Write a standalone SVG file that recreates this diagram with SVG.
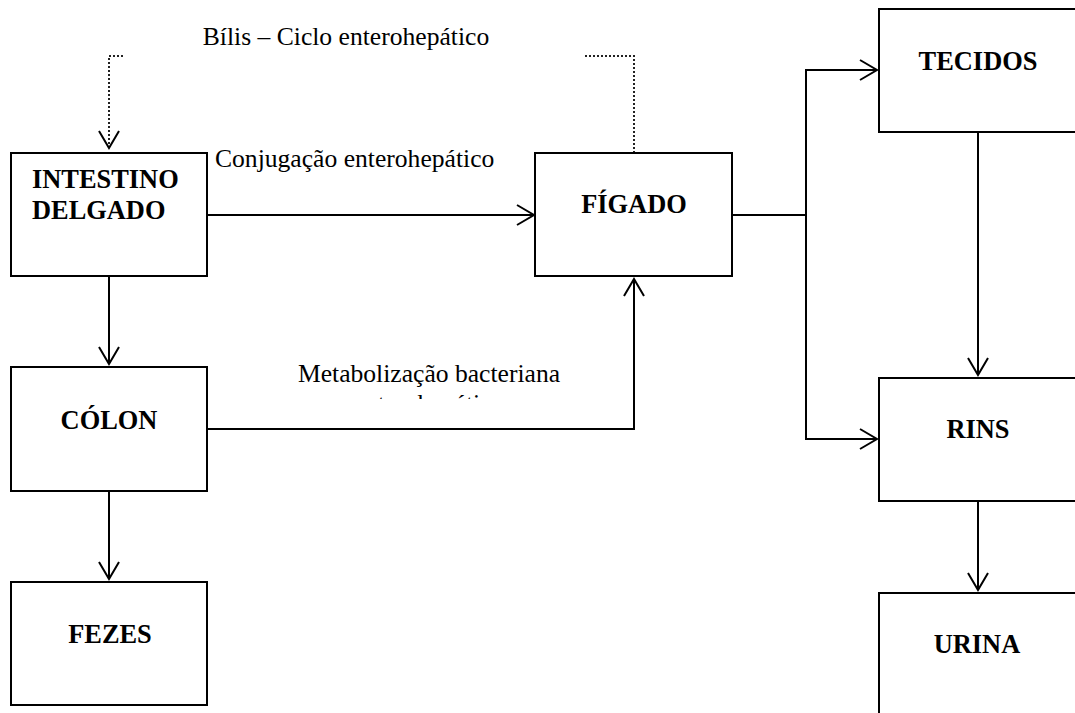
<svg xmlns="http://www.w3.org/2000/svg" width="1075" height="713" viewBox="0 0 1075 713">
<style>
.box{fill:#fff;stroke:#000;stroke-width:2}
.lbl{font-family:'Liberation Serif',serif;font-weight:bold;font-size:26.4px;fill:#000}
.txt{font-family:'Liberation Serif',serif;font-weight:normal;font-style:normal;font-size:25.6px;fill:#000}
.ln{fill:none;stroke:#000;stroke-width:2}
.dot{fill:none;stroke:#222;stroke-width:2;stroke-dasharray:2 2}
</style>
<defs>
<marker id="ah" markerUnits="userSpaceOnUse" markerWidth="24" markerHeight="26" viewBox="-20 -13 24 26" refX="0" refY="0" orient="auto">
<path d="M-17,-10 L0,0 L-17,10" fill="none" stroke="#000" stroke-width="2"/>
</marker>
<clipPath id="clipMeta"><rect x="250" y="355" width="360" height="44"/></clipPath>
</defs>
<rect width="1075" height="713" fill="#fff"/>
<g id="connectors">
<line class="ln" x1="207" y1="215" x2="534" y2="215" marker-end="url(#ah)"/>
<line class="ln" x1="109" y1="276" x2="109" y2="364" marker-end="url(#ah)"/>
<line class="ln" x1="109" y1="491" x2="109" y2="579" marker-end="url(#ah)"/>
<polyline class="ln" points="207,429 634,429 634,279" marker-end="url(#ah)"/>
<line class="ln" x1="732" y1="215" x2="806" y2="215"/>
<line class="ln" x1="806" y1="70" x2="806" y2="439"/>
<line class="ln" x1="805" y1="70" x2="877" y2="70" marker-end="url(#ah)"/>
<line class="ln" x1="805" y1="439" x2="877" y2="439" marker-end="url(#ah)"/>
<line class="ln" x1="978" y1="132" x2="978" y2="375" marker-end="url(#ah)"/>
<line class="ln" x1="978" y1="501" x2="978" y2="590" marker-end="url(#ah)"/>
<polyline class="dot" points="123,56 109,56 109,148"/>
<path d="M99,131 L109,148 L119,131" fill="none" stroke="#000" stroke-width="2"/>
<polyline class="dot" points="585,56 634,56 634,153"/>
</g>
<g id="labels">
<text class="txt" x="346" y="45" text-anchor="middle">Bílis – Ciclo enterohepático</text>
<text class="txt" x="215" y="167">Conjugação enterohepático</text>
<g clip-path="url(#clipMeta)">
<text class="txt" x="429" y="382" text-anchor="middle">Metabolização bacteriana</text>
<text class="txt" x="429" y="412" text-anchor="middle">enterohepático</text>
</g>
</g>
<g id="intestino">
<rect class="box" x="11" y="153" width="196" height="123"/>
<text class="lbl" x="32" y="188">INTESTINO</text>
<text class="lbl" x="32" y="219">DELGADO</text>
</g>
<g id="colon">
<rect class="box" x="11" y="367" width="196" height="124"/>
<text class="lbl" x="109" y="429" text-anchor="middle">CÓLON</text>
</g>
<g id="fezes">
<rect class="box" x="11" y="582" width="196" height="123"/>
<text class="lbl" x="110" y="643" text-anchor="middle">FEZES</text>
</g>
<g id="figado">
<rect class="box" x="535" y="153" width="197" height="123"/>
<text class="lbl" x="634" y="213" text-anchor="middle">FÍGADO</text>
</g>
<g id="tecidos">
<rect class="box" x="879" y="9" width="250" height="123"/>
<text class="lbl" x="978" y="70" text-anchor="middle">TECIDOS</text>
</g>
<g id="rins">
<rect class="box" x="879" y="378" width="250" height="123"/>
<text class="lbl" x="978" y="438" text-anchor="middle">RINS</text>
</g>
<g id="urina">
<rect class="box" x="879" y="593" width="250" height="140"/>
<text class="lbl" x="977" y="653" text-anchor="middle">URINA</text>
</g>
</svg>
